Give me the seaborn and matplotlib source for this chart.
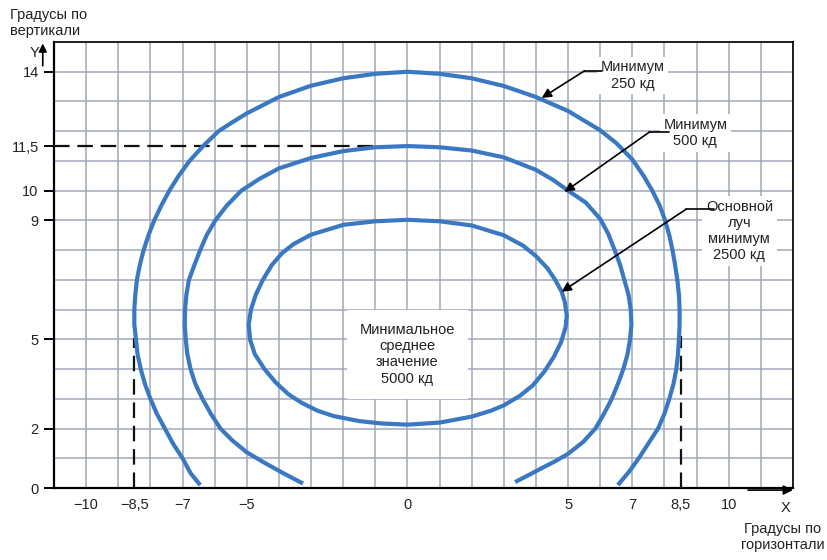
import pandas as pd
import seaborn as sns
import matplotlib.pyplot as plt
from matplotlib.ticker import MultipleLocator

# curve 250 cd (outer)
outer_x = [-6.45, -6.75, -7.0, -7.3, -7.55, -7.8, -8.0, -8.17, -8.3, -8.4, -8.45, -8.5, -8.5,
           -8.47, -8.42, -8.33, -8.21, -8.06, -7.88, -7.66, -7.41, -7.12, -6.78, -6.36, -5.88,
           -5.45, -5.0, -4.0, -3.0, -2.0, -1.0, 0.0, 1.0, 2.0, 3.0, 4.0, 5.0, 6.0, 6.5, 7.0,
           7.35, 7.62, 7.85, 8.02, 8.15, 8.25, 8.33, 8.4, 8.45, 8.47, 8.47, 8.45, 8.42, 8.37,
           8.28, 8.15, 8.0, 7.8, 7.5, 7.2, 6.9, 6.55]
outer_y = [0.1, 0.5, 1, 1.5, 2, 2.5, 3, 3.5, 4, 4.5, 5, 5.5, 6,
           6.5, 7, 7.5, 8, 8.5, 9, 9.5, 10, 10.5, 11, 11.5, 12,
           12.3, 12.6, 13.15, 13.53, 13.78, 13.93, 14.0, 13.93, 13.78, 13.52, 13.15, 12.68, 12.03, 11.6, 11.05,
           10.5, 10.0, 9.5, 9.0, 8.5, 8.0, 7.5, 7.0, 6.5, 6.0, 5.5, 5.0, 4.5, 4.0,
           3.5, 3.0, 2.5, 2.0, 1.5, 1.0, 0.55, 0.1]

# curve 500 cd (middle)
mid_x = [-3.25, -3.87, -4.45, -5.0, -5.45, -5.82, -6.12, -6.38, -6.6, -6.75, -6.85, -6.9,
         -6.93, -6.92, -6.88, -6.8, -6.63, -6.45, -6.25, -5.98, -5.62, -5.17, -4.6, -4.0,
         -3.0, -2.0, -1.0, 0.0, 1.0, 2.0, 3.0, 4.0, 4.55, 5.0, 5.55, 6.0, 6.25, 6.45,
         6.62, 6.75, 6.88, 6.95, 6.97, 6.93, 6.85, 6.72, 6.55, 6.36, 6.12, 5.85, 5.47,
         5.0, 4.6, 4.2, 3.8, 3.35]
mid_y = [0.15, 0.5, 0.85, 1.2, 1.6, 2.0, 2.5, 3.0, 3.5, 4.0, 4.5, 5.0,
         5.5, 6.0, 6.5, 7.0, 7.5, 8.0, 8.5, 9.0, 9.5, 10.0, 10.4, 10.75,
         11.1, 11.33, 11.46, 11.5, 11.46, 11.35, 11.12, 10.7, 10.35, 10.0, 9.6, 9.05, 8.55, 8.0,
         7.5, 7.0, 6.5, 6.0, 5.5, 5.0, 4.5, 4.0, 3.5, 3.0, 2.5, 2.0, 1.55,
         1.15, 0.9, 0.68, 0.45, 0.2]

# curve 2500 cd (inner)
inner_x = [0.0, 1.0, 2.0, 2.6, 3.0, 3.5, 3.9, 4.25, 4.55, 4.78, 4.92, 4.96, 4.9, 4.8, 4.6,
           4.35, 4.0, 3.6, 3.0, 2.0, 1.0, 0.0, -1.0, -2.0, -3.0, -3.55, -3.9, -4.22, -4.5,
           -4.72, -4.87, -4.94, -4.9, -4.75, -4.45, -4.1, -3.7, -3.3, -2.8, -2.3, -1.5,
           -0.8, 0.0]
inner_y = [2.13, 2.2, 2.4, 2.6, 2.78, 3.1, 3.45, 3.9, 4.4, 4.9, 5.4, 5.8, 6.25, 6.6, 7.0,
           7.4, 7.8, 8.15, 8.5, 8.83, 8.97, 9.02, 8.97, 8.85, 8.52, 8.2, 7.9, 7.5, 7.0,
           6.5, 6.0, 5.5, 5.0, 4.5, 4.0, 3.55, 3.15, 2.87, 2.6, 2.42, 2.25,
           2.17, 2.13]

x_ticks = [-10, -8.5, -7, -5, 0, 5, 7, 8.5, 10]
x_labels = ["\u221210", "\u22128,5", "\u22127", "\u22125", "0", "5", "7", "8,5", "10"]
y_ticks = [0, 2, 5, 9, 10, 11.5, 14]
y_labels = ["0", "2", "5", "9", "10", "11,5", "14"]

curves = pd.concat([
    pd.DataFrame({"x": outer_x, "y": outer_y, "curve": "250"}),
    pd.DataFrame({"x": mid_x, "y": mid_y, "curve": "500"}),
    pd.DataFrame({"x": inner_x, "y": inner_y, "curve": "2500"}),
])

sns.set_theme(style="white")
plt.rcParams["font.family"] = ["Liberation Sans Narrow", "Liberation Sans", "DejaVu Sans"]

W, H = 827, 560
fig = plt.figure(figsize=(W / 100, H / 100), dpi=100)
ax = fig.add_axes([54 / W, 1 - 488 / H, (793 - 54) / W, (488 - 42) / H])

blue = "#3b78c2"
grid_col = "#a3a7bb"
txt_col = "#222222"

for name in ["250", "500", "2500"]:
    sub = curves[curves["curve"] == name]
    sns.lineplot(data=sub, x="x", y="y", sort=False, estimator=None, color=blue,
                 lw=3.0, solid_joinstyle="round", solid_capstyle="butt", ax=ax, zorder=4)

ax.set_xlim(-11, 12)
ax.set_ylim(0, 15)
ax.set_xlabel("")
ax.set_ylabel("")

# grid every unit
ax.xaxis.set_minor_locator(MultipleLocator(1))
ax.yaxis.set_minor_locator(MultipleLocator(1))
ax.xaxis.remove_overlapping_locs = False
ax.yaxis.remove_overlapping_locs = False
ax.grid(False, which="major")
ax.grid(True, which="minor", color=grid_col, lw=1.1)
ax.set_axisbelow(True)

ax.set_xticks(x_ticks)
ax.set_xticklabels(x_labels)
ax.set_yticks(y_ticks)
ax.set_yticklabels(y_labels)
ax.tick_params(axis="x", which="major", length=0, pad=7, labelsize=10.5, labelcolor=txt_col)
ax.tick_params(axis="y", which="major", length=7, width=1.4, color="black", direction="out",
               left=True, pad=4, labelsize=10.5, labelcolor=txt_col)
ax.tick_params(which="minor", length=0)

for s in ax.spines.values():
    s.set_visible(True)
    s.set_color("black")
    s.set_linewidth(1.6)
ax.spines["top"].set_linewidth(1.2)
ax.spines["right"].set_linewidth(1.2)

# dashed guide lines
dash = (0, (7, 3.5))
ax.plot([-11, -1.05], [11.5, 11.5], color="#111111", lw=1.6, ls=dash, zorder=3)
ax.plot([-8.5, -8.5], [0, 5.05], color="#111111", lw=1.6, ls=dash, zorder=3)
ax.plot([8.5, 8.5], [0, 5.1], color="#111111", lw=1.6, ls=dash, zorder=3)

box = dict(boxstyle="square,pad=0.25", fc="white", ec="none")
ax.text(0, 4.5, "Минимальное\nсреднее\nзначение\n5000 кд", ha="center", va="center",
        fontsize=10.5, color=txt_col, zorder=5,
        bbox=dict(boxstyle="square,pad=0.9", fc="white", ec="none"))
ax.text(7.0, 13.87, "Минимум\n250 кд", ha="center", va="center", fontsize=10.5,
        color=txt_col, zorder=5, bbox=box)
ax.text(8.96, 11.94, "Минимум\n500 кд", ha="center", va="center", fontsize=10.5,
        color=txt_col, zorder=5, bbox=box)
ax.text(10.33, 8.64, "Основной\nлуч\nминимум\n2500 кд", ha="center", va="center",
        fontsize=10.5, color=txt_col, zorder=5, bbox=box)

# leader arrows: (start of horizontal part, elbow, tip)
leaders = [
    ((6.07, 14.03), (5.51, 14.03), (4.18, 13.12)),
    ((8.15, 11.97), (7.53, 11.97), (4.89, 9.96)),
    ((9.55, 9.38), (8.68, 9.38), (4.8, 6.6)),
]
for start, elbow, tip in leaders:
    ax.plot([start[0], elbow[0]], [start[1], elbow[1]], color="black", lw=1.2, zorder=6)
    ax.annotate("", xy=tip, xytext=elbow,
                arrowprops=dict(arrowstyle="-|>", color="black", lw=1.2,
                                mutation_scale=14, shrinkA=0, shrinkB=0), zorder=6)

# axis arrows
ax.annotate("", xy=(12.0, -0.07), xytext=(10.6, -0.07), annotation_clip=False,
            arrowprops=dict(arrowstyle="-|>", color="black", lw=1.2, mutation_scale=14,
                            shrinkA=0, shrinkB=0))
ax.annotate("", xy=(-11.35, 14.95), xytext=(-11.35, 14.2), annotation_clip=False,
            arrowprops=dict(arrowstyle="-|>", color="black", lw=1.2, mutation_scale=12,
                            shrinkA=0, shrinkB=0))

fig.text(786 / W, 1 - 508 / H, "X", ha="center", va="center", fontsize=10.5, color=txt_col)
fig.text(783 / W, 1 - 537 / H, "Градусы по\nгоризонтали", ha="center", va="center",
         fontsize=10.5, color=txt_col)
fig.text(34 / W, 1 - 53 / H, "Y", ha="center", va="center", fontsize=10.5, color=txt_col)
fig.text(10 / W, 1 - 23 / H, "Градусы по\nвертикали", ha="left", va="center",
         fontsize=10.5, color=txt_col)

fig.savefig("out.png", dpi=100)
